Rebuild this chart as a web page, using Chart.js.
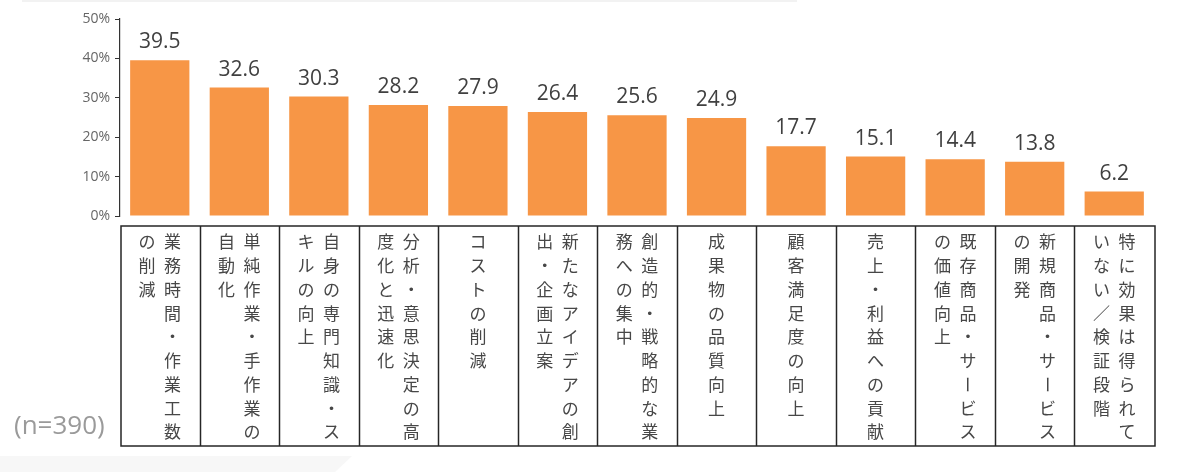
<!DOCTYPE html>
<html>
<head>
<meta charset="utf-8">
<script src="https://cdn.jsdelivr.net/npm/chart.js@4/dist/chart.umd.min.js"></script>
<style>
html,body{margin:0;padding:0;background:#fff;}
#wrap{position:relative;width:1201px;height:472px;}
</style>
</head>
<body>
<div id="wrap"><canvas id="c" width="1201" height="472"></canvas></div>
<script>
// Category labels (vertical text, each entry = columns from right to left)
const categories = [
  ["業務時間・作業工数", "の削減"],
  ["単純作業・手作業の", "自動化"],
  ["自身の専門知識・ス", "キルの向上"],
  ["分析・意思決定の高", "度化と迅速化"],
  ["コストの削減"],
  ["新たなアイデアの創", "出・企画立案"],
  ["創造的・戦略的な業", "務への集中"],
  ["成果物の品質向上"],
  ["顧客満足度の向上"],
  ["売上・利益への貢献"],
  ["既存商品・サービス", "の価値向上"],
  ["新規商品・サービス", "の開発"],
  ["特に効果は得られて", "いない／検証段階"]
];
const values = [39.5, 32.6, 30.3, 28.2, 27.9, 26.4, 25.6, 24.9, 17.7, 15.1, 14.4, 13.8, 6.2];
const yTicks = [0, 10, 20, 30, 40, 50];
const sampleNote = "(n=390)";

const CJK = '"Noto Sans CJK JP", "Noto Sans", sans-serif';

const overlay = {
  id: 'overlay',
  beforeDraw(chart) {
    const ctx = chart.ctx;
    ctx.save();
    ctx.fillStyle = '#fff';
    ctx.fillRect(0, 0, chart.width, chart.height);
    // faint screenshot artifacts
    ctx.fillStyle = '#f2f2f2';
    ctx.fillRect(22, 0, 775, 2);
    ctx.fillStyle = '#f7f7f7';
    ctx.beginPath();
    ctx.moveTo(0, 456); ctx.lineTo(352, 456); ctx.lineTo(335, 472); ctx.lineTo(0, 472);
    ctx.closePath(); ctx.fill();
    ctx.restore();
  },
  afterDraw(chart) {
    const ctx = chart.ctx;
    const xs = chart.scales.x, ys = chart.scales.y;
    const meta = chart.getDatasetMeta(0);
    ctx.save();
    // value labels
    ctx.font = '21px "Open Sans", "Noto Sans", sans-serif';
    ctx.fillStyle = '#404040';
    ctx.textAlign = 'center';
    ctx.textBaseline = 'alphabetic';
    meta.data.forEach((bar, i) => {
      ctx.fillText(values[i].toFixed(1), bar.x, bar.y - 12);
    });
    // category table
    const n = categories.length;
    const cw = (xs.right - xs.left) / n;
    const top = ys.bottom + 10, bottom = 446;
    ctx.strokeStyle = '#262626';
    ctx.lineWidth = 1.5;
    ctx.strokeRect(xs.left + 1, top, xs.right - xs.left, bottom - top);
    for (let i = 1; i < n; i++) {
      const x = Math.round(xs.left + i * cw) + 0.5;
      ctx.beginPath(); ctx.moveTo(x, top); ctx.lineTo(x, bottom); ctx.stroke();
    }
    ctx.font = '17px ' + CJK;
    ctx.fillStyle = '#474747';
    ctx.textAlign = 'center';
    ctx.textBaseline = 'middle';
    const colGap = 25.5, rowGap = 23.75;
    categories.forEach((cols, i) => {
      const cx = xs.getPixelForValue(i);
      cols.forEach((col, j) => {
        const x = cx + ((cols.length - 1) / 2 - j) * colGap;
        Array.from(col).forEach((ch, k) => {
          const y = top + 16 + k * rowGap;
          if (ch === '\u30FC') {
            ctx.save(); ctx.translate(x, y); ctx.rotate(Math.PI / 2);
            ctx.fillText(ch, 0, 0); ctx.restore();
          } else {
            ctx.fillText(ch, x, y);
          }
        });
      });
    });
    // sample size note
    ctx.font = '26px "Open Sans", "Noto Sans", sans-serif';
    ctx.fillStyle = '#9a9a9a';
    ctx.textAlign = 'left';
    ctx.textBaseline = 'middle';
    ctx.fillText(sampleNote, 14, 427);
    ctx.restore();
  }
};

new Chart(document.getElementById('c'), {
  type: 'bar',
  data: {
    labels: categories.map(c => c.join('')),
    datasets: [{
      data: values,
      backgroundColor: '#F79646',
      borderWidth: 0,
      categoryPercentage: 1.0,
      barPercentage: 0.745
    }]
  },
  options: {
    responsive: false,
    animation: false,
    devicePixelRatio: 1,
    layout: { padding: { left: 0, right: 47, top: 19, bottom: 256 } },
    plugins: { legend: { display: false }, tooltip: { enabled: false } },
    scales: {
      x: { display: false },
      y: {
        min: 0, max: 50,
        afterBuildTicks(scale) { scale.ticks = yTicks.map(v => ({ value: v })); },
        afterFit(scale) { scale.width = 120; },
        ticks: {
          callback: v => v + '%',
          color: '#666666',
          font: { family: '"Open Sans", "Noto Sans", sans-serif', size: 14 },
          padding: 5
        },
        grid: { drawOnChartArea: false, drawTicks: true, tickLength: 5, color: '#333', lineWidth: 1 },
        border: { display: true, color: '#333', width: 1.2 }
      }
    }
  },
  plugins: [overlay]
});
</script>
</body>
</html>
